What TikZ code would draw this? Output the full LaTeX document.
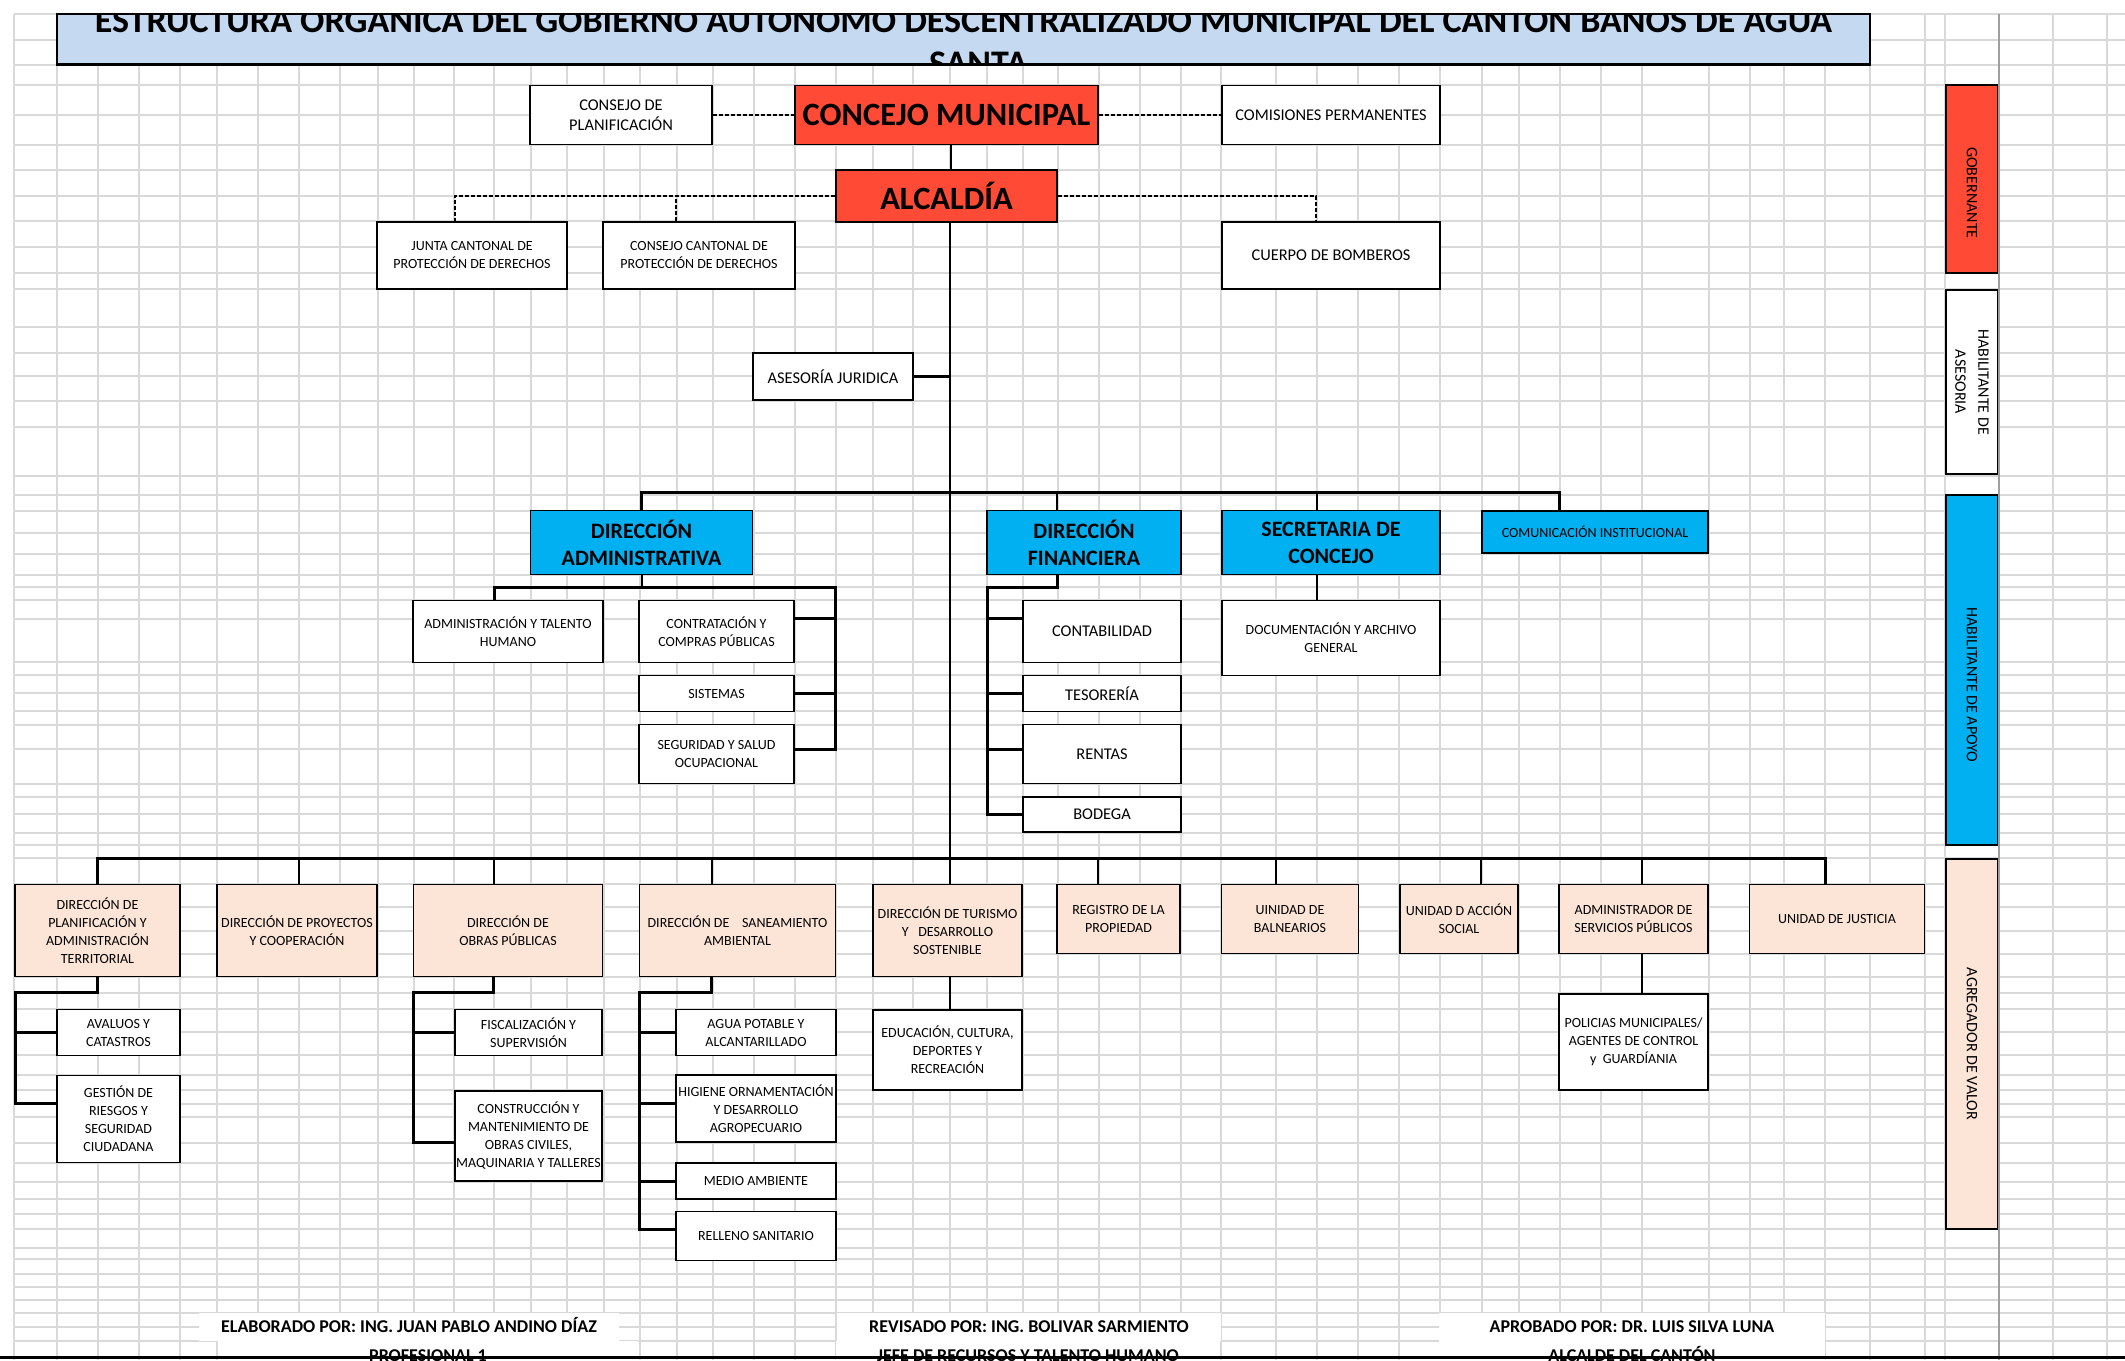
\documentclass[tikz,border=0pt]{standalone}
\usepackage{fontspec}
\setmainfont{Carlito}
\definecolor{rojo}{RGB}{255,74,54}
\definecolor{celeste}{RGB}{0,176,240}
\definecolor{durazno}{RGB}{252,229,214}
\definecolor{azulclaro}{RGB}{197,217,241}
\definecolor{gris}{RGB}{217,217,217}
\begin{document}
\begin{tikzpicture}[x=1pt,y=-1pt,
  rejillaln/.style={draw=gris,line width=1.1pt},
  caja/.style={draw,line width=1.2pt,fill=white,inner sep=0pt,align=center,font=\fontsize{14}{18}\selectfont},
  cajam/.style={caja,font=\fontsize{16.4}{20}\selectfont},
  roja/.style={caja,fill=rojo,font=\bfseries\fontsize{32.5}{36}\selectfont},
  azul/.style={caja,fill=celeste,font=\bfseries\fontsize{22}{27}\selectfont},
  valor/.style={caja,fill=durazno},
  lado/.style={caja,rotate=-90,font=\fontsize{16}{23}\selectfont},
  pie/.style={fill=white,inner sep=0pt,font=\bfseries\fontsize{18}{22}\selectfont,text height=11.5,text depth=0},
  conn/.style={line width=2pt},
  bus/.style={line width=3pt},
  trunk/.style={line width=1.3pt},
  punteada/.style={line width=1.5pt,dash pattern=on 4pt off 2pt}]
\useasboundingbox (0,0) rectangle (2125,1360);
% rejilla de la hoja
\foreach \gx in {14,57,98,139,180,217,258,299,340,378,414,454,494,531,567,604,640,677,713,754,795,836,873,913,950,987,1023,1058,1099,1140,1181,1221,1276,1317,1358,1399,1440,1482,1519,1560,1601,1642,1709,1750,1784,1825,1870,1925,1945,2053,2107}
  \draw[rejillaln] (\gx,14) -- (\gx,1360);
\foreach \gy in {14,40,65,85,115,145,170,196,221,247,273,289,327,353,376,401,427,476,495,511,533,554,575,587,600,619,662,675,693,711,725,749,784,797,814,833,845,858,884,907,931,954,977,993,1009,1032,1055,1075,1090,1104,1117,1143,1163,1182,1199,1214,1229,1248,1259,1274,1287,1300,1313,1327,1341}
  \draw[rejillaln] (14,\gy) -- (2125,\gy);

% titulo
\node[draw,line width=1.5pt,fill=azulclaro,minimum width=1813,minimum height=50,inner sep=0pt] (titulo) at (963.5,39) {};
\begin{scope}
  \clip (titulo.south west) rectangle (titulo.north east);
  \node[anchor=south,inner sep=0pt,align=center,font=\bfseries\fontsize{36}{43}\selectfont] at ([yshift=-10.7]titulo.south)
    {ESTRUCTURA ORGÁNICA DEL GOBIERNO AUTÓNOMO DESCENTRALIZADO MUNICIPAL DEL CANTÓN BAÑOS DE AGUA\\\hspace*{30pt}SANTA};
\end{scope}
\draw[line width=3pt] (titulo.south west) -- (titulo.south east);

% nivel gobernante
\node[cajam,minimum width=182,minimum height=59] (cplan) at (621,115) {CONSEJO DE\\PLANIFICACIÓN};
\node[roja,minimum width=303,minimum height=59] (cmun) at (946.5,115) {CONCEJO MUNICIPAL};
\node[cajam,minimum width=218,minimum height=59] (comis) at (1331,115) {COMISIONES PERMANENTES};
\node[roja,minimum width=221,minimum height=52] (alc) at (946.5,196) {ALCALDÍA};
\node[caja,minimum width=190,minimum height=67] (junta) at (472,255.5) {JUNTA CANTONAL DE\\PROTECCIÓN DE DERECHOS};
\node[caja,minimum width=192,minimum height=67] (ccant) at (699,255.5) {CONSEJO CANTONAL DE\\PROTECCIÓN DE DERECHOS};
\node[cajam,minimum width=218,minimum height=67] (bomb) at (1331,255.5) {CUERPO DE BOMBEROS};
\node[cajam,minimum width=160,minimum height=47] (asej) at (833,376.5) {ASESORÍA JURIDICA};

% nivel de apoyo
\node[azul,minimum width=222,minimum height=64] (dadm) at (641.5,542.5) {DIRECCIÓN\\ADMINISTRATIVA};
\node[azul,minimum width=194,minimum height=64] (dfin) at (1084,542.5) {DIRECCIÓN\\FINANCIERA};
\node[azul,minimum width=218,minimum height=64] (secr) at (1331,542.5) {SECRETARIA DE\\CONCEJO};
\node[caja,fill=celeste,minimum width=226,minimum height=42] (comu) at (1595,532) {COMUNICACIÓN INSTITUCIONAL};
\node[caja,minimum width=190,minimum height=62] (adth) at (508,631.5) {ADMINISTRACIÓN Y TALENTO\\HUMANO};
\node[caja,minimum width=155,minimum height=62] (contr) at (716.5,631.5) {CONTRATACIÓN Y\\COMPRAS PÚBLICAS};
\node[caja,minimum width=155,minimum height=36] (sist) at (716.5,693.5) {SISTEMAS};
\node[caja,minimum width=155,minimum height=59] (segu) at (716.5,754) {SEGURIDAD Y SALUD\\OCUPACIONAL};
\node[cajam,minimum width=158,minimum height=62] (conta) at (1102,631.5) {CONTABILIDAD};
\node[cajam,minimum width=158,minimum height=36] (teso) at (1102,693.5) {TESORERÍA};
\node[cajam,minimum width=158,minimum height=59] (rent) at (1102,754) {RENTAS};
\node[cajam,minimum width=158,minimum height=35] (bode) at (1102,814.5) {BODEGA};
\node[caja,minimum width=218,minimum height=75] (docu) at (1331,638) {DOCUMENTACIÓN Y ARCHIVO\\GENERAL};

% nivel agregador de valor
\node[valor,minimum width=165,minimum height=92] (dpla) at (97.5,930.5) {DIRECCIÓN DE\\PLANIFICACIÓN Y\\ADMINISTRACIÓN\\TERRITORIAL};
\node[valor,minimum width=160,minimum height=92] (dpro) at (297,930.5) {DIRECCIÓN DE PROYECTOS\\Y COOPERACIÓN};
\node[valor,minimum width=189,minimum height=92] (dobr) at (508,930.5) {DIRECCIÓN DE\\OBRAS PÚBLICAS};
\node[valor,minimum width=196,minimum height=92] (dsan) at (737.5,930.5) {DIRECCIÓN DE \ \ \ SANEAMIENTO\\AMBIENTAL};
\node[valor,minimum width=149,minimum height=92] (dtur) at (947.5,930.5) {DIRECCIÓN DE TURISMO\\Y \ \ DESARROLLO\\SOSTENIBLE};
\node[valor,minimum width=123,minimum height=69] (regp) at (1118.5,919) {REGISTRO DE LA\\PROPIEDAD};
\node[valor,minimum width=137,minimum height=69] (baln) at (1290,919) {UINIDAD DE\\BALNEARIOS};
\node[valor,minimum width=118,minimum height=69] (asoc) at (1459,919) {UNIDAD D ACCIÓN\\SOCIAL};
\node[valor,minimum width=149,minimum height=69] (aserv) at (1633.5,919) {ADMINISTRADOR DE\\SERVICIOS PÚBLICOS};
\node[valor,minimum width=175,minimum height=69] (djus) at (1837,919) {UNIDAD DE JUSTICIA};
\node[caja,minimum width=123,minimum height=46] (aval) at (118.5,1032.5) {AVALUOS Y\\CATASTROS};
\node[caja,minimum width=123,minimum height=87] (gest) at (118.5,1119) {GESTIÓN DE\\RIESGOS Y\\SEGURIDAD\\CIUDADANA};
\node[caja,minimum width=147,minimum height=46] (fisc) at (528.5,1032.5) {FISCALIZACIÓN Y\\SUPERVISIÓN};
\node[caja,minimum width=147,minimum height=90] (const) at (528.5,1136) {CONSTRUCCIÓN Y\\MANTENIMIENTO DE\\OBRAS CIVILES,\\MAQUINARIA Y TALLERES};
\node[caja,minimum width=160,minimum height=46] (agua) at (756,1032.5) {AGUA POTABLE Y\\ALCANTARILLADO};
\node[caja,minimum width=160,minimum height=67] (higi) at (756,1108.5) {HIGIENE ORNAMENTACIÓN\\Y DESARROLLO\\AGROPECUARIO};
\node[caja,minimum width=160,minimum height=36] (medio) at (756,1181) {MEDIO AMBIENTE};
\node[caja,minimum width=160,minimum height=49] (rell) at (756,1236) {RELLENO SANITARIO};
\node[caja,minimum width=149,minimum height=80] (educ) at (947.5,1050) {EDUCACIÓN, CULTURA,\\DEPORTES Y\\RECREACIÓN};
\node[caja,minimum width=149,minimum height=96] (poli) at (1633.5,1042) {POLICIAS MUNICIPALES/\\AGENTES DE CONTROL\\y \ GUARDÍANIA};

% columna de niveles
\node[lado,fill=rojo,minimum width=188,minimum height=52] (gob) at (1972,179) {\hspace*{28pt}GOBERNANTE};
\node[lado,minimum width=184,minimum height=52] (hase) at (1972,382) {HABILITANTE DE\\ASESORIA};
\node[lado,fill=celeste,minimum width=350,minimum height=52] (hapo) at (1972,670) {\hspace*{30pt}HABILITANTE DE APOYO};
\node[lado,fill=durazno,minimum width=370,minimum height=52] (agre) at (1972,1044) {AGREGADOR DE VALOR};

% conectores
\draw[punteada] (cplan.east) -- (cmun.west);
\draw[punteada] (cmun.east) -- (comis.west);
\draw[conn] ([xshift=4]cmun.south) -- ([xshift=4]alc.north);
\draw[punteada] (alc.west) -| ([xshift=-17]junta.north);
\draw[punteada] ([xshift=-23]ccant.north) -- ++(0,-26);
\draw[punteada] (alc.east) -| ([xshift=-15]bomb.north);
\draw[trunk] ([xshift=3.5]alc.south) -- ([xshift=2.5]dtur.north);
\draw[bus] (asej.east) -- ([xshift=3.5]asej.east -| alc.south);

\draw[bus] (dadm.north) -- ++(0,-17) -| ([xshift=-36]comu.north);
\draw[conn] ([xshift=-27]dfin.north) -- ++(0,-17);
\draw[conn] ([xshift=-14]secr.north) -- ++(0,-17);

\coordinate (abus) at (835.4,587.3);
\draw[conn] (dadm.south) -- (dadm.south |- abus);
\draw[bus] ([xshift=-14]adth.north) |- (abus) |- ([yshift=5]segu.east);
\draw[bus] ([yshift=13]contr.east) -- ([yshift=13]contr.east -| abus);
\draw[bus] (sist.east) -- (sist.east -| abus);

\coordinate (fbus) at (987,587.3);
\draw[bus] ([xshift=-27]dfin.south) |- (fbus) |- (bode.west);
\draw[bus] ([yshift=13]conta.west) -- ([yshift=13]conta.west -| fbus);
\draw[bus] (teso.west) -- (teso.west -| fbus);
\draw[bus] ([yshift=5]rent.west) -- ([yshift=5]rent.west -| fbus);
\draw[conn] ([xshift=-14]secr.south) -- ([xshift=-14]docu.north);

\draw[bus] (dpla.north) -- ++(0,-25.8) -| ([xshift=-12]djus.north);
\draw[conn] ([xshift=2]dpro.north) -- ++(0,-25.8);
\draw[conn] ([xshift=-14.5]dobr.north) -- ++(0,-25.8);
\draw[conn] ([xshift=-25.6]dsan.north) -- ++(0,-25.8);
\draw[conn] ([xshift=-21]regp.north) -- ++(0,-25.8);
\draw[conn] ([xshift=-14]baln.north) -- ++(0,-25.8);
\draw[conn] ([xshift=22]asoc.north) -- ++(0,-25.8);
\draw[conn] ([xshift=8]aserv.north) -- ++(0,-25.8);

\coordinate (pbus) at (15,992.7);
\draw[bus] (dpla.south) |- (pbus) |- ([yshift=16]gest.west);
\draw[bus] (aval.west) -- (aval.west -| pbus);
\coordinate (obus) at (413.7,992.7);
\draw[bus] ([xshift=-14.5]dobr.south) |- (obus) |- ([yshift=-6]const.west);
\draw[bus] (fisc.west) -- (fisc.west -| obus);
\coordinate (sbus) at (639.5,992.7);
\draw[bus] ([xshift=-25.6]dsan.south) |- (sbus) |- ([yshift=7]rell.west);
\draw[bus] (agua.west) -- (agua.west -| sbus);
\draw[bus] ([yshift=5]higi.west) -- ([yshift=5]higi.west -| sbus);
\draw[bus] (medio.west) -- (medio.west -| sbus);
\draw[conn] ([xshift=2.5]dtur.south) -- ([xshift=2.5]educ.north);
\draw[conn] ([xshift=8]aserv.south) -- ([xshift=8]poli.north);

\draw[draw=gray!75,line width=2pt] (1999,14) -- (1999,1360);

% firmas
\node[pie,minimum width=420,minimum height=28] (elab) at (409,1327) {ELABORADO POR: ING. JUAN PABLO ANDINO DÍAZ};
\node[pie,minimum width=420,minimum height=30] (prof) at (428,1356) {PROFESIONAL 1};
\node[pie,minimum width=384,minimum height=28] (revi) at (1029,1327) {REVISADO POR: ING. BOLIVAR SARMIENTO};
\node[pie,minimum width=384,minimum height=30] (jefe) at (1028,1356) {JEFE DE RECURSOS Y TALENTO HUMANO};
\node[pie,minimum width=386,minimum height=28] (apro) at (1632,1327) {APROBADO POR: DR. LUIS SILVA LUNA};
\node[pie,minimum width=386,minimum height=30] (alca) at (1632,1356) {ALCALDE DEL CANTÓN};
\draw[line width=3pt] (0,1357.5) -- (2125,1357.5);
\end{tikzpicture}
\end{document}
